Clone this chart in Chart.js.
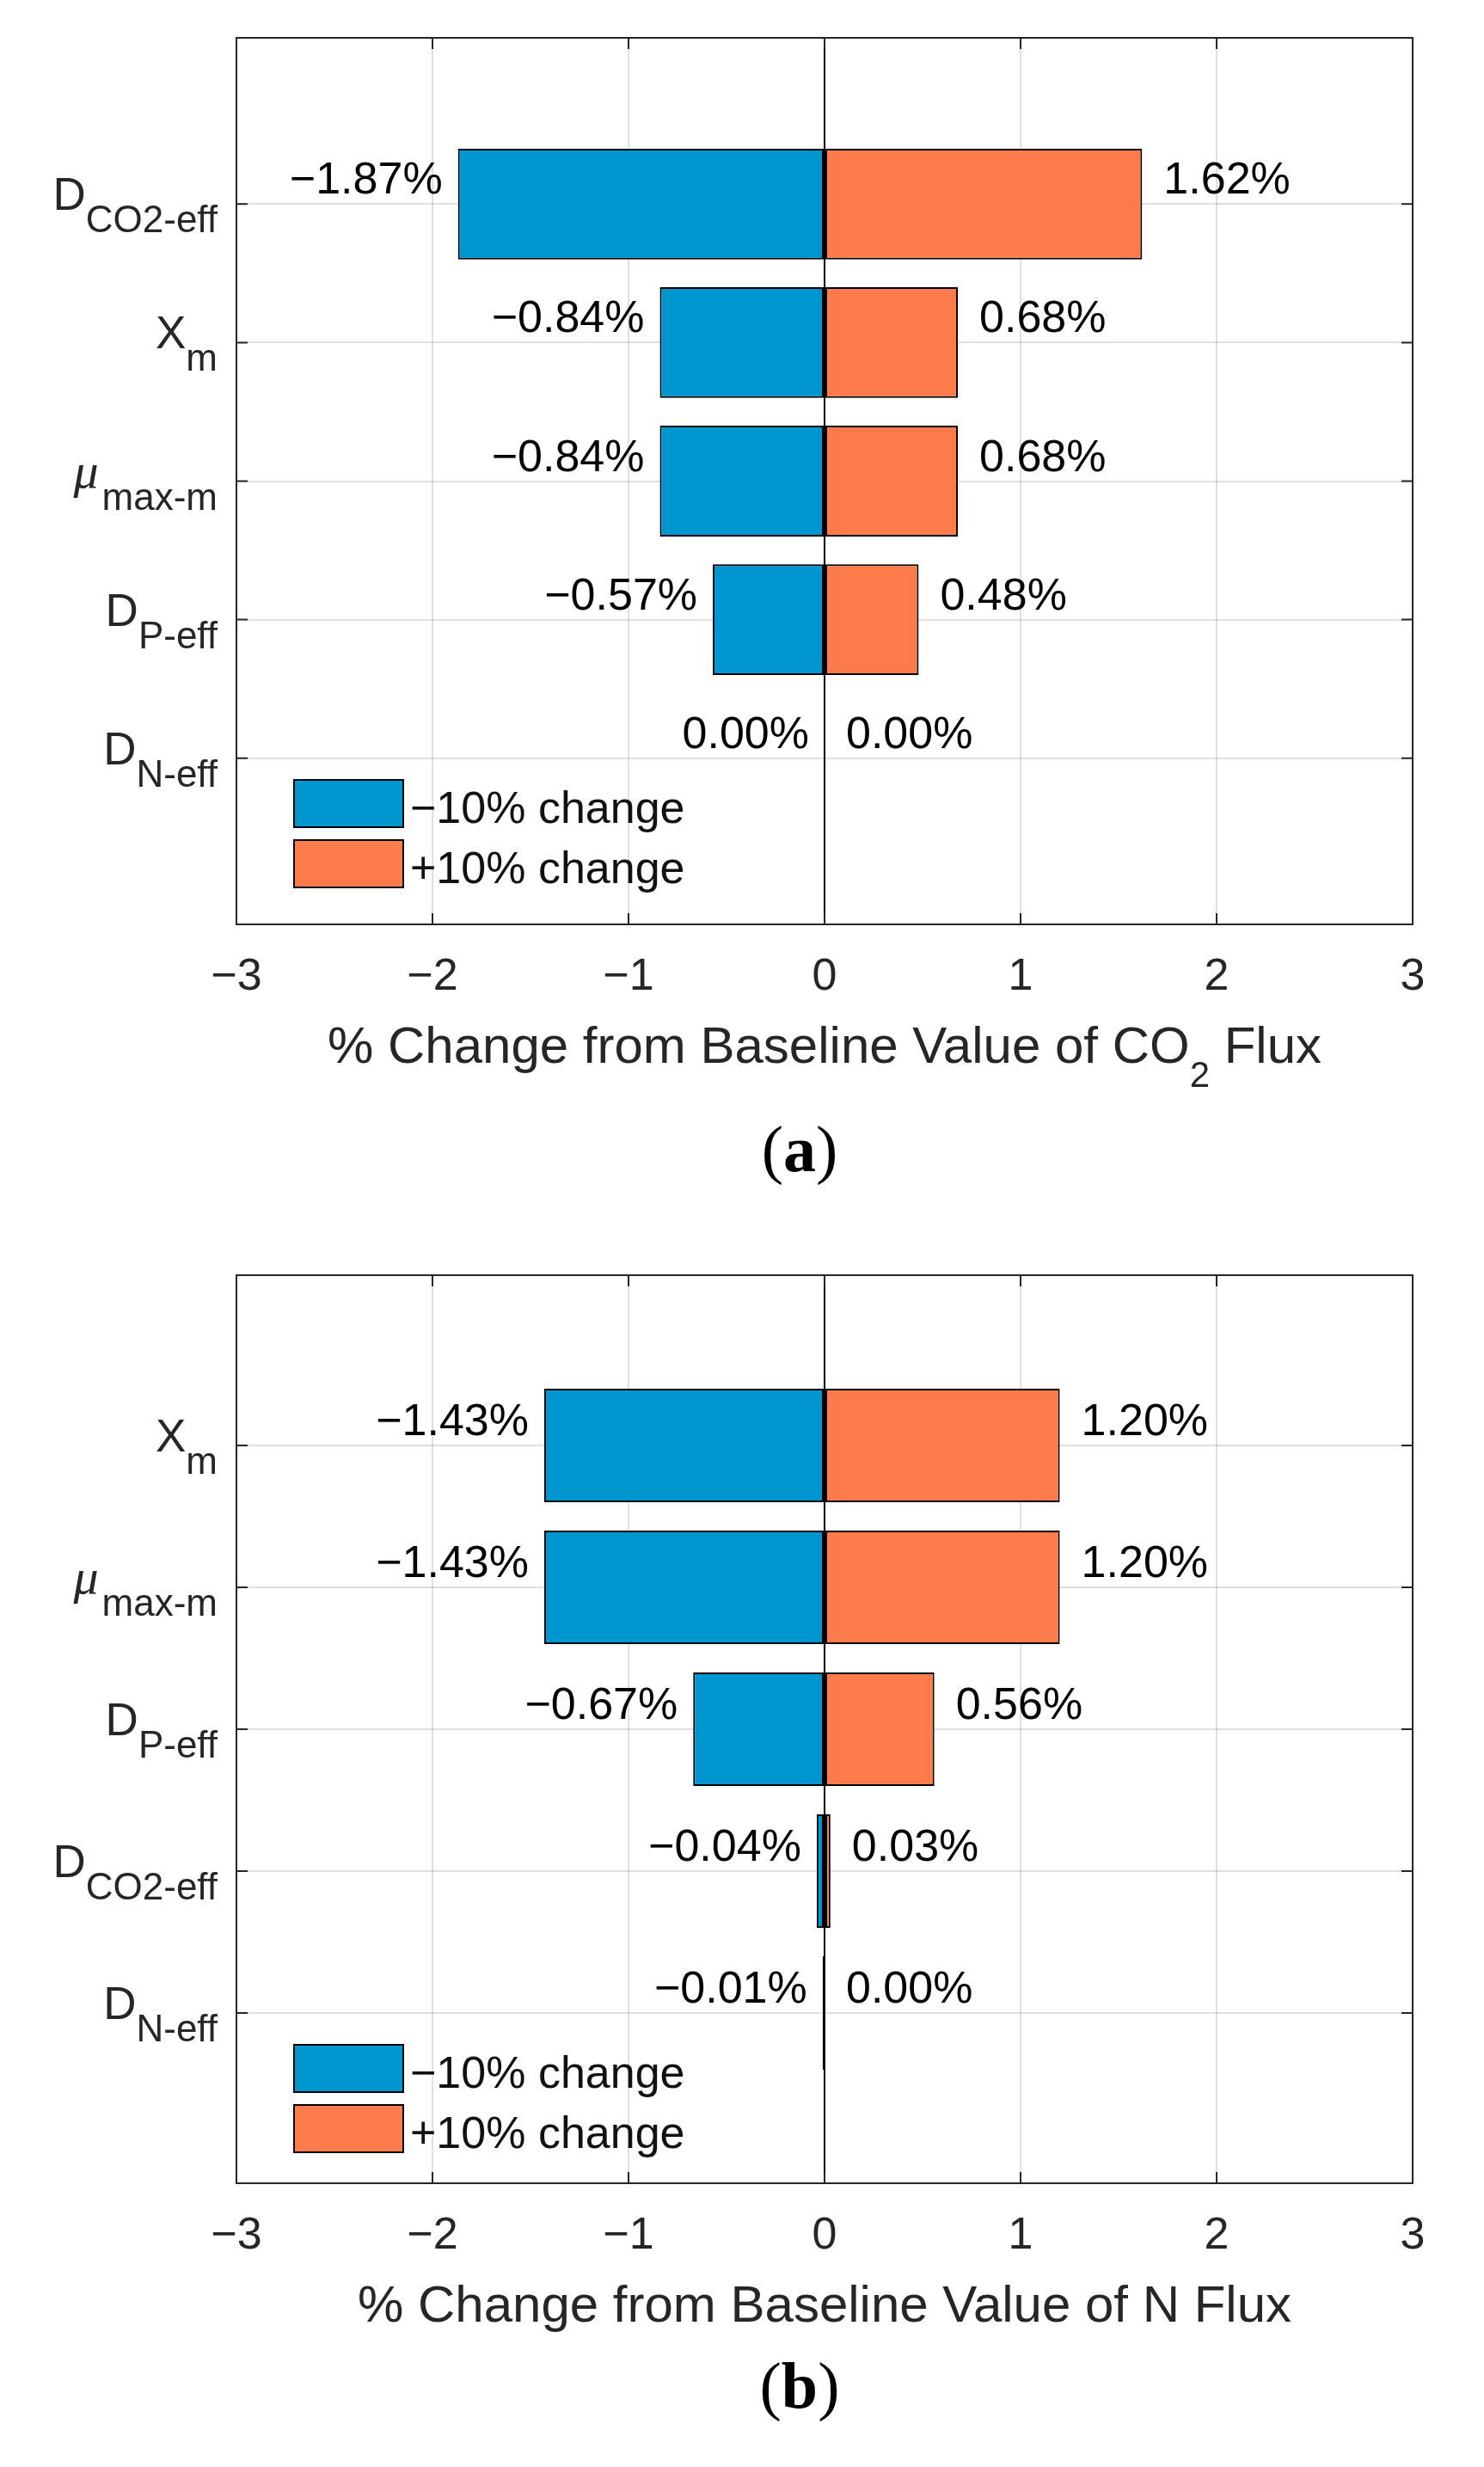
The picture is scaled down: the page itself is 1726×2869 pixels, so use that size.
<!DOCTYPE html>
<html>
<head>
<meta charset="utf-8">
<script src="https://cdn.jsdelivr.net/npm/chart.js@4.4.1/dist/chart.umd.min.js"></script>
<style>
  html, body { margin: 0; padding: 0; background: #ffffff; }
  body { width: 1726px; height: 2869px; position: relative; overflow: hidden; }
  .wrap { position: absolute; left: 0; width: 1726px; }
</style>
</head>
<body>
<div class="wrap" style="top:0px;height:1400px;"><canvas id="chartA"></canvas></div>
<div class="wrap" style="top:1400px;height:1469px;"><canvas id="chartB"></canvas></div>
<script>
// ---------------- data ----------------
const seriesNames = ['\u221210% change', '+10% change'];
const xTickValues = [-3, -2, -1, 0, 1, 2, 3];

// Chart (a): CO2 flux
const labelMainA = ['D', 'X', '\u03bc', 'D', 'D'];
const labelSubA  = ['CO2-eff', 'm', 'max-m', 'P-eff', 'N-eff'];
const minusA = [-1.87, -0.84, -0.84, -0.57, 0.00];
const plusA  = [1.62, 0.68, 0.68, 0.48, 0.00];
const titleA = ['% Change from Baseline Value of CO', '2', ' Flux'];
const captionA = 'a';

// Chart (b): N flux
const labelMainB = ['X', '\u03bc', 'D', 'D', 'D'];
const labelSubB  = ['m', 'max-m', 'P-eff', 'CO2-eff', 'N-eff'];
const minusB = [-1.43, -1.43, -0.67, -0.04, -0.01];
const plusB  = [1.20, 1.20, 0.56, 0.03, 0.00];
const titleB = ['% Change from Baseline Value of N Flux', '', ''];
const captionB = 'b';

// ---------------- styling ----------------
const SANS = '"Liberation Sans", Arial, Helvetica, sans-serif';
const SERIF = '"Liberation Serif", "Times New Roman", serif';
const BLUE = '#0096CF';
const ORANGE = '#FE7C4B';
const AXIS = '#262626';

function fmt(v) {
  return (v < 0 ? '\u2212' : '') + Math.abs(v).toFixed(2) + '%';
}

const decoPlugin = {
  id: 'deco',
  afterDraw(chart, args, o) {
    const ctx = chart.ctx;
    const a = chart.chartArea;
    const xs = chart.scales.x, ys = chart.scales.y;
    ctx.save();

    // axes box
    ctx.strokeStyle = AXIS;
    ctx.lineWidth = 2;
    ctx.strokeRect(a.left, a.top, a.right - a.left, a.bottom - a.top);

    // inward tick marks on all four sides
    ctx.beginPath();
    xs.ticks.forEach(t => {
      const p = xs.getPixelForValue(t.value);
      if (p <= a.left + 1 || p >= a.right - 1) return;
      ctx.moveTo(p, a.bottom); ctx.lineTo(p, a.bottom - o.tickLen);
      ctx.moveTo(p, a.top); ctx.lineTo(p, a.top + o.tickLen);
    });
    ys.ticks.forEach(t => {
      const p = ys.getPixelForValue(t.value);
      ctx.moveTo(a.left, p); ctx.lineTo(a.left + o.tickLen, p);
      ctx.moveTo(a.right, p); ctx.lineTo(a.right - o.tickLen, p);
    });
    ctx.stroke();

    // y category labels with subscripts
    ctx.fillStyle = AXIS;
    ctx.textAlign = 'left';
    ctx.textBaseline = 'alphabetic';
    o.mains.forEach((m, i) => {
      const py = ys.getPixelForValue(i + 1);
      const isMu = m === '\u03bc';
      const mainFont = isMu ? ('italic ' + o.muSize + 'px ' + SERIF) : (o.mainSize + 'px ' + SANS);
      const subFont = o.subSize + 'px ' + SANS;
      ctx.font = subFont;
      const ws = ctx.measureText(o.subs[i]).width;
      ctx.font = mainFont;
      const wm = ctx.measureText(m).width;
      const right = a.left - o.labelGap;
      ctx.font = mainFont;
      ctx.fillText(m, right - ws - wm - (isMu ? 4 : 0), py + o.mainDrop);
      ctx.font = subFont;
      ctx.fillText(o.subs[i], right - ws, py + o.subDrop);
    });

    // value labels next to bars
    ctx.fillStyle = '#000';
    ctx.font = o.valueSize + 'px ' + SANS;
    chart.data.datasets.forEach((ds, d) => {
      ds.data.forEach(pt => {
        const px = xs.getPixelForValue(pt.x);
        const py = ys.getPixelForValue(pt.y) - o.valueRaise;
        if (d === 0) {
          ctx.textAlign = 'right';
          ctx.fillText(fmt(pt.x), px - o.negGap, py);
        } else {
          ctx.textAlign = 'left';
          ctx.fillText(fmt(pt.x), px + o.posGap, py);
        }
      });
    });

    // legend (inside axes, lower left)
    ctx.textAlign = 'left';
    ctx.font = o.legendSize + 'px ' + SANS;
    chart.data.datasets.forEach((ds, d) => {
      const top = a.bottom - o.legendFromBottom + d * (o.patchH + o.patchGap);
      const left = a.left + o.legendLeft;
      ctx.fillStyle = ds.backgroundColor;
      ctx.fillRect(left, top, o.patchW, o.patchH);
      ctx.strokeStyle = '#000';
      ctx.lineWidth = 2;
      ctx.strokeRect(left, top, o.patchW, o.patchH);
      ctx.fillStyle = '#111';
      ctx.fillText(ds.label, left + o.patchW + 8, top + o.patchH - 5);
    });

    // x axis title (with optional subscript)
    const t = o.title;
    const cx = (a.left + a.right) / 2;
    const by = a.bottom + o.titleDrop;
    ctx.fillStyle = AXIS;
    const fMain = o.titleSize + 'px ' + SANS;
    const fSub = o.titleSubSize + 'px ' + SANS;
    ctx.font = fMain; const w1 = ctx.measureText(t[0]).width; const w3 = ctx.measureText(t[2]).width;
    ctx.font = fSub; const w2 = ctx.measureText(t[1]).width;
    let x0 = cx - (w1 + w2 + w3) / 2;
    ctx.font = fMain; ctx.fillText(t[0], x0, by);
    ctx.font = fSub; ctx.fillText(t[1], x0 + w1, by + o.titleSubDrop);
    ctx.font = fMain; ctx.fillText(t[2], x0 + w1 + w2, by);

    // panel caption
    ctx.fillStyle = '#000';
    ctx.textAlign = 'left';
    ctx.font = o.capSize + 'px ' + SERIF;
    const wp = ctx.measureText('(').width;
    ctx.font = 'bold ' + o.capSize + 'px ' + SERIF;
    const wl = ctx.measureText(o.caption).width;
    let cx0 = o.capX - (2 * wp + wl) / 2;
    ctx.font = o.capSize + 'px ' + SERIF;
    ctx.fillText('(', cx0, o.capY);
    ctx.font = 'bold ' + o.capSize + 'px ' + SERIF;
    ctx.fillText(o.caption, cx0 + wp, o.capY);
    ctx.font = o.capSize + 'px ' + SERIF;
    ctx.fillText(')', cx0 + wp + wl, o.capY);

    ctx.restore();
  }
};

function makeChart(id, mains, subs, minus, plus, title, caption, layout) {
  const positions = mains.map((_, i) => i + 1);
  return new Chart(document.getElementById(id), {
    type: 'bar',
    data: {
      datasets: [
        {
          label: seriesNames[0],
          data: minus.map((v, i) => ({ x: v, y: positions[i] })),
          backgroundColor: BLUE
        },
        {
          label: seriesNames[1],
          data: plus.map((v, i) => ({ x: v, y: positions[i] })),
          backgroundColor: ORANGE
        }
      ]
    },
    options: {
      indexAxis: 'y',
      responsive: true,
      maintainAspectRatio: false,
      animation: false,
      devicePixelRatio: 1,
      layout: { padding: { top: layout.top, right: layout.right, left: 0, bottom: 0 } },
      datasets: {
        bar: {
          grouped: false,
          categoryPercentage: 1.0,
          barPercentage: 0.8,
          borderColor: '#000',
          borderWidth: 2,
          borderSkipped: false
        }
      },
      scales: {
        x: {
          type: 'linear',
          position: 'bottom',
          min: -3, max: 3,
          offset: false,
          afterBuildTicks: s => { s.ticks = xTickValues.map(v => ({ value: v })); },
          afterFit: s => { s.height = layout.xAxisH; },
          border: { display: false },
          grid: {
            offset: false,
            drawTicks: false,
            lineWidth: 2,
            color: c => (c.tick && c.tick.value === 0) ? '#000000' : '#e0e0e0'
          },
          ticks: {
            autoSkip: false,
            maxRotation: 0,
            padding: 30,
            color: AXIS,
            font: { family: SANS, size: 52 },
            callback: v => (v < 0 ? '\u2212' + Math.abs(v) : String(v))
          }
        },
        y: {
          type: 'linear',
          reverse: true,
          min: -0.2, max: 6.2,
          offset: false,
          z: 1,
          afterBuildTicks: s => { s.ticks = positions.map(v => ({ value: v })); },
          afterFit: s => { s.width = layout.left; },
          border: { display: false },
          grid: { offset: false, drawTicks: false, lineWidth: 2, color: 'rgba(0,0,0,0.12)' },
          ticks: { display: false }
        }
      },
      plugins: {
        legend: { display: false },
        tooltip: { enabled: false },
        deco: {
          mains: mains, subs: subs, title: title, caption: caption,
          tickLen: 13,
          labelGap: 22,
          mainSize: 53, muSize: 58, subSize: 44, mainDrop: 7, subDrop: 33,
          valueSize: 52, valueRaise: 12, negGap: 18, posGap: 25,
          legendSize: 52, legendFromBottom: layout.legendFromBottom, legendLeft: 67,
          patchW: 127, patchH: 55, patchGap: 15,
          titleSize: 60, titleSubSize: 42, titleDrop: 161, titleSubDrop: 28,
          capSize: 76, capX: 930, capY: layout.capY
        }
      }
    },
    plugins: [decoPlugin]
  });
}

makeChart('chartA', labelMainA, labelSubA, minusA, plusA, titleA, captionA,
  { top: 44, right: 83, left: 275, xAxisH: 325, legendFromBottom: 168, capY: 1362 });
makeChart('chartB', labelMainB, labelSubB, minusB, plusB, titleB, captionB,
  { top: 83, right: 83, left: 275, xAxisH: 330, legendFromBottom: 161, capY: 1400 });
</script>
</body>
</html>
